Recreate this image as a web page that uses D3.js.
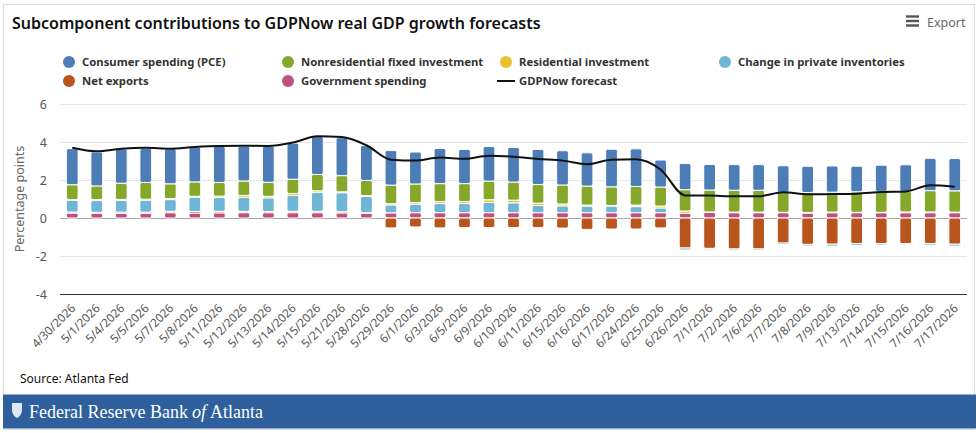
<!DOCTYPE html>
<html lang="en">
<head>
<meta charset="UTF-8">
<title>GDPNow subcomponents</title>
<script src="https://cdn.jsdelivr.net/npm/d3@7/dist/d3.min.js"></script>
<style>
  body { margin: 0; background: #fff; }
  text { font-family: "Noto Sans", "Open Sans", sans-serif; }
  text.serif { font-family: "Liberation Serif", "DejaVu Serif", serif; }
</style>
</head>
<body>
<div id="chart"></div>
<script>
// forecast dates
const categories = ["4/30/2026","5/1/2026","5/4/2026","5/5/2026","5/7/2026","5/8/2026","5/11/2026","5/12/2026",
  "5/13/2026","5/14/2026","5/15/2026","5/21/2026","5/28/2026","5/29/2026","6/1/2026","6/3/2026","6/5/2026",
  "6/9/2026","6/10/2026","6/11/2026","6/15/2026","6/16/2026","6/17/2026","6/24/2026","6/25/2026","6/26/2026",
  "7/1/2026","7/2/2026","7/6/2026","7/7/2026","7/8/2026","7/9/2026","7/13/2026","7/14/2026","7/15/2026",
  "7/16/2026","7/17/2026"];

// contributions, percentage points
const pce = [1.90,1.78,1.80,1.80,1.83,1.84,1.90,1.83,1.90,1.90,2.00,2.00,1.83,1.82,1.68,1.85,1.80,1.82,1.82,
  1.85,1.80,1.75,1.98,1.98,1.42,1.38,1.35,1.35,1.35,1.40,1.38,1.38,1.35,1.38,1.40,1.70,1.70];
const nonres = [0.78,0.72,0.85,0.88,0.78,0.76,0.72,0.76,0.74,0.75,0.86,0.85,0.80,0.98,0.98,0.95,0.95,0.98,0.95,
  0.98,1.00,1.00,0.98,0.98,1.00,1.12,1.15,1.15,1.15,1.05,1.05,1.05,1.08,1.10,1.08,1.12,1.12];
const residential = [0.03,0.05,0.05,0.05,0.05,0.04,0.07,0.10,0.08,0.10,0.08,0.05,0.05,0.06,0.08,0.10,0.10,0.14,0.14,
  0.12,0.10,0.05,0.03,0.08,0.10,0.12,0.02,0.03,0.03,0.02,0.03,0.03,0.02,0.02,0.04,0.04,0.03];
const inventories = [0.63,0.62,0.62,0.63,0.62,0.76,0.73,0.74,0.72,0.84,1.00,1.00,0.85,0.42,0.45,0.48,0.48,0.54,0.52,
  0.38,0.36,0.35,0.35,0.32,0.25,-0.10,-0.07,-0.06,-0.06,-0.08,-0.08,-0.10,-0.09,-0.07,-0.04,-0.08,-0.10];
const netExports = [0.05,0.05,0.06,0.06,0.07,0.08,0.08,0.07,0.06,0.07,0.07,0.06,0.02,-0.52,-0.47,-0.52,-0.50,-0.50,-0.50,
  -0.50,-0.53,-0.60,-0.58,-0.58,-0.52,-1.58,-1.60,-1.63,-1.63,-1.32,-1.39,-1.38,-1.35,-1.35,-1.35,-1.35,-1.38];
const government = [0.26,0.25,0.25,0.25,0.28,0.26,0.27,0.28,0.28,0.28,0.28,0.27,0.26,0.27,0.28,0.28,0.28,0.28,0.28,
  0.28,0.28,0.28,0.28,0.28,0.28,0.25,0.30,0.28,0.28,0.28,0.26,0.28,0.28,0.28,0.28,0.28,0.28];
const gdpNow = [3.70,3.51,3.65,3.70,3.65,3.74,3.79,3.80,3.79,3.97,4.30,4.26,3.83,3.07,3.02,3.18,3.12,3.28,3.23,
  3.11,3.02,2.83,3.07,3.09,2.55,1.19,1.18,1.14,1.14,1.35,1.25,1.26,1.28,1.37,1.40,1.72,1.65];

const yTicks = [-4, -2, 0, 2, 4, 6];

// series, legend order
const series = [
  { key: "pce", name: "Consumer spending (PCE)", color: "#4d7db6", values: pce },
  { key: "nonres", name: "Nonresidential fixed investment", color: "#86a82a", values: nonres },
  { key: "res", name: "Residential investment", color: "#e9c12b", values: residential },
  { key: "inv", name: "Change in private inventories", color: "#6fb6d6", values: inventories },
  { key: "net", name: "Net exports", color: "#b8541c", values: netExports },
  { key: "gov", name: "Government spending", color: "#c0507f", values: government }
];

const W = 980, H = 433;
const svg = d3.select("#chart").append("svg").attr("width", W).attr("height", H);

// card
svg.append("rect").attr("x", 3.5).attr("y", 4.5).attr("width", 971).attr("height", 425)
  .attr("fill", "#fff").attr("stroke", "#dcdcdc");

svg.append("text").attr("x", 12).attr("y", 29)
  .attr("font-size", 16).attr("font-weight", 600).attr("fill", "#111")
  .text("Subcomponent contributions to GDPNow real GDP growth forecasts");

// export button
const exp = svg.append("g").attr("fill", "#555");
[16.5, 21, 25.5].forEach(y => exp.append("rect").attr("x", 906).attr("y", y - 1.2).attr("width", 13).attr("height", 2.4));
exp.append("text").attr("x", 927).attr("y", 27).attr("font-size", 12.5).attr("fill", "#666").text("Export");

// scales
const x = d3.scaleBand().domain(categories).range([60, 967]).paddingInner(0.52).paddingOuter(0.26);
const y = d3.scaleLinear().domain([-4, 6]).range([294, 104]);

// grid
svg.append("g")
  .attr("transform", "translate(60,0)")
  .call(d3.axisLeft(y).tickValues(yTicks).tickSize(-907).tickFormat(""))
  .call(g => g.select(".domain").remove())
  .call(g => g.selectAll("line").attr("stroke", d => d === -4 ? "#333" : (d === 0 ? "#a8a8a8" : "#e6e6e6")));

// y labels
svg.append("g").selectAll("text").data(yTicks).join("text")
  .attr("x", 47).attr("y", d => y(d) + 4.5).attr("text-anchor", "end")
  .attr("font-size", 12.5).attr("fill", "#555").text(d => d);

svg.append("text").attr("transform", "translate(24,199) rotate(-90)")
  .attr("text-anchor", "middle").attr("font-size", 12.5).attr("fill", "#666")
  .text("Percentage points");

// stacked bars
const rows = categories.map((c, i) => {
  const r = { cat: c };
  series.forEach(s => r[s.key] = s.values[i]);
  return r;
});
const stackKeys = ["gov", "net", "inv", "res", "nonres", "pce"];
const stacked = d3.stack().keys(stackKeys).offset(d3.stackOffsetDiverging)(rows);
const colorOf = Object.fromEntries(series.map(s => [s.key, s.color]));

svg.append("g").selectAll("g").data(stacked).join("g")
  .attr("fill", d => colorOf[d.key])
  .selectAll("rect").data(d => d).join("rect")
  .attr("x", d => x(d.data.cat))
  .attr("width", x.bandwidth())
  .attr("y", d => y(Math.max(d[0], d[1])))
  .attr("height", d => Math.abs(y(d[0]) - y(d[1])))
  .attr("rx", 2)
  .attr("stroke", "#fff").attr("stroke-width", 1);

// GDPNow line
const line = d3.line()
  .x((d, i) => x(categories[i]) + x.bandwidth() / 2)
  .y(d => y(d))
  .curve(d3.curveMonotoneX);
svg.append("path").datum(gdpNow).attr("d", line)
  .attr("fill", "none").attr("stroke", "#111").attr("stroke-width", 2);

// x labels
svg.append("g").selectAll("text").data(categories).join("text")
  .attr("transform", d => `translate(${x(d) + x.bandwidth() / 2 + 4},309) rotate(-45)`)
  .attr("text-anchor", "end").attr("font-size", 11.8).attr("fill", "#555")
  .text(d => d);

// legend
const legendPos = [
  { x: 69, y: 62 }, { x: 288, y: 62 }, { x: 506, y: 62 }, { x: 725, y: 62 },
  { x: 69, y: 81 }, { x: 288, y: 81 }
];
const lg = svg.append("g");
series.forEach((s, i) => {
  const p = legendPos[i];
  lg.append("circle").attr("cx", p.x).attr("cy", p.y).attr("r", 6).attr("fill", s.color);
  lg.append("text").attr("x", p.x + 13).attr("y", p.y + 4.2)
    .attr("font-size", 11.3).attr("font-weight", 700).attr("fill", "#333").text(s.name);
});
lg.append("line").attr("x1", 497).attr("x2", 515).attr("y1", 81).attr("y2", 81)
  .attr("stroke", "#111").attr("stroke-width", 2);
lg.append("text").attr("x", 519).attr("y", 85.2)
  .attr("font-size", 11.3).attr("font-weight", 700).attr("fill", "#333").text("GDPNow forecast");

// source
svg.append("text").attr("x", 20).attr("y", 383).attr("font-size", 12).attr("fill", "#111")
  .text("Source: Atlanta Fed");

// footer band
svg.append("rect").attr("x", 3).attr("y", 394.5).attr("width", 973).attr("height", 34).attr("fill", "#305f9e");
svg.append("path")
  .attr("d", "M12,403 L22,403 L22,410 Q22,415 17,418 Q12,415 12,410 Z")
  .attr("fill", "#dfe7f2");

// footer wordmark, pieces laid out one after another
const parts = [
  { t: "Federal Reserve Bank", italic: false },
  { t: "of", italic: true },
  { t: "Atlanta", italic: false }
];
let fx = 29;
parts.forEach(p => {
  const el = svg.append("text").attr("class", "serif").attr("x", fx).attr("y", 418)
    .attr("font-size", 18).attr("fill", "#fff")
    .attr("font-style", p.italic ? "italic" : "normal")
    .text(p.t);
  fx += el.node().getComputedTextLength() + 4;
});
</script>
</body>
</html>
